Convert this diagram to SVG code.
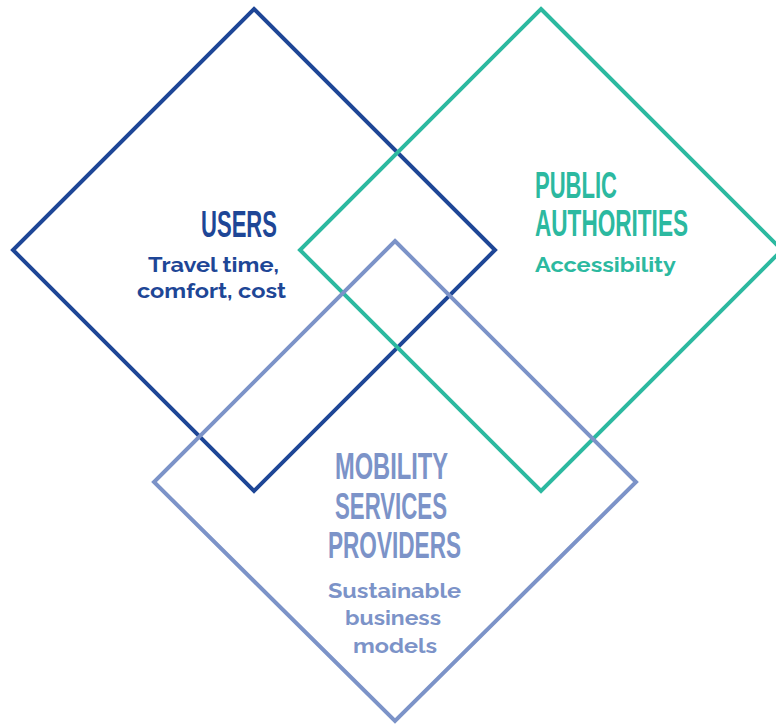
<svg xmlns="http://www.w3.org/2000/svg" width="776" height="724" viewBox="0 0 776 724">
<style>
.d{fill:none;stroke-width:4;stroke-linejoin:miter}
.t{font-family:"Liberation Sans",Arial,sans-serif;font-size:37px;font-weight:bold}
.s{font-family:Raleway,"Open Sans","Liberation Sans",sans-serif;font-weight:bold;font-size:20px}
.nv{fill:#1e4696}.nvs{stroke:#1e4696}
.tl{fill:#2cb9a0}.tls{stroke:#2cb9a0}
.lv{fill:#7c93c8}.lvs{stroke:#7c93c8}
</style>
<rect width="776" height="724" fill="#fff"/>
<g id="connectors"/>
<g id="users">
<polygon class="d nvs" points="254,9 495,250 254,491 13,250"/>
<text class="t nv" x="201" y="237" textLength="76" lengthAdjust="spacingAndGlyphs">USERS</text>
<text class="s nv" x="148" y="272" textLength="131" lengthAdjust="spacingAndGlyphs">Travel time,</text>
<text class="s nv" x="137" y="298" textLength="149" lengthAdjust="spacingAndGlyphs">comfort, cost</text>
</g>
<g id="public-authorities">
<polygon class="d tls" points="541,9 782,250 541,491 300,250"/>
<text class="t tl" x="535" y="198" textLength="82" lengthAdjust="spacingAndGlyphs">PUBLIC</text>
<text class="t tl" x="535" y="236" textLength="153" lengthAdjust="spacingAndGlyphs">AUTHORITIES</text>
<text class="s tl" x="535" y="272" textLength="141" lengthAdjust="spacingAndGlyphs">Accessibility</text>
</g>
<g id="mobility-services-providers">
<polygon class="d lvs" points="395,241 636,482 395,721 154,482"/>
<text class="t lv" x="335" y="479" textLength="113" lengthAdjust="spacingAndGlyphs">MOBILITY</text>
<text class="t lv" x="335" y="519" textLength="112" lengthAdjust="spacingAndGlyphs">SERVICES</text>
<text class="t lv" x="328" y="558" textLength="133" lengthAdjust="spacingAndGlyphs">PROVIDERS</text>
<text class="s lv" x="328" y="598" textLength="133" lengthAdjust="spacingAndGlyphs">Sustainable</text>
<text class="s lv" x="345" y="625" textLength="96" lengthAdjust="spacingAndGlyphs">business</text>
<text class="s lv" x="353" y="653" textLength="84" lengthAdjust="spacingAndGlyphs">models</text>
</g>
</svg>
